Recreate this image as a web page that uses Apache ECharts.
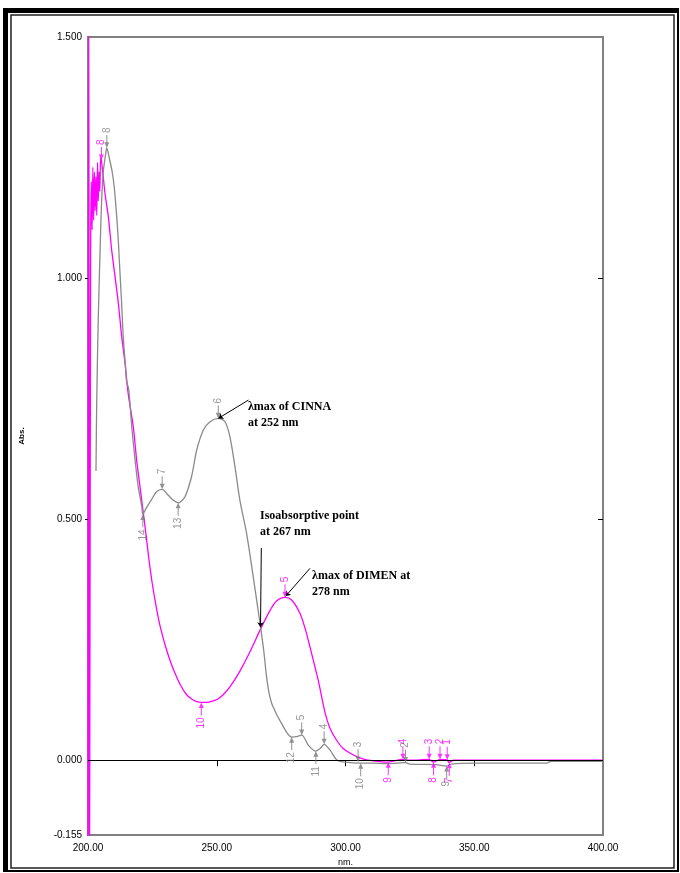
<!DOCTYPE html>
<html><head><meta charset="utf-8">
<script src="https://cdn.jsdelivr.net/npm/echarts@6/dist/echarts.min.js"></script>
<style>html,body{margin:0;padding:0;background:#fff}#c{width:680px;height:873px}</style>
</head><body><div id="c"></div>
<script>
// ---- data (wavelength nm, absorbance) ----
const cinnaSpectrum = [
 [203.1,0.60],[203.4,0.747],[204.0,0.92],[204.7,1.058],[205.3,1.162],[206.0,1.224],[206.8,1.255],
 [207.3,1.270],[208.3,1.248],[209.4,1.22],[210.3,1.183],[211.6,1.093],[212.3,1.023],[213.0,0.954],
 [213.7,0.878],[214.5,0.820],[215.0,0.785],[215.8,0.770],[217.0,0.691],[218.3,0.622],[219.5,0.567],
 [220.9,0.526],[221.3,0.510],[222.5,0.522],[224.5,0.539],[226.6,0.557],[228.8,0.562],[231.1,0.550],
 [233.4,0.538],[235.0,0.534],[237.6,0.546],[240.2,0.588],[242.2,0.643],[244.8,0.685],[247.4,0.702],
 [250.6,0.709],[253.2,0.702],[255.1,0.671],[257.1,0.608],[259.0,0.539],[261.6,0.470],[263.6,0.401],
 [265.5,0.332],[267.1,0.273],[268.3,0.225],[269.3,0.175],[270.3,0.140],[271.7,0.113],[275.2,0.076],
 [279.1,0.048],[281.0,0.049],[283.0,0.052],[285.6,0.031],[288.5,0.019],[290.3,0.025],[291.7,0.033],
 [294.0,0.021],[296.8,0.000],[300.0,-0.004],[305.8,-0.006],[310.0,-0.006],[316.0,-0.007],[320.0,-0.006],
 [323.3,-0.005],[325.0,-0.008],[335.0,-0.009],[339.4,-0.012],[341.0,-0.008],[350.0,-0.006],
 [378.0,-0.006],[380.0,-0.002],[400.0,-0.002]
];
const dimenSpectrum = [
 [200.0,-0.30],[200.3,1.70],[200.6,-0.30],[201.0,1.02],[201.3,1.20],[201.6,1.10],[201.9,1.23],
 [202.2,1.12],[202.5,1.22],[202.8,1.14],[203.1,1.21],[203.4,1.13],[203.7,1.24],[204.0,1.16],
 [204.3,1.22],[204.6,1.18],[204.9,1.25],[205.2,1.245],[206.6,1.176],[207.9,1.127],[209.2,1.058],
 [210.5,1.003],[211.8,0.947],[213.1,0.878],[214.4,0.823],[215.6,0.761],[217.6,0.691],[218.9,0.622],
 [220.2,0.567],[221.5,0.512],[222.8,0.456],[223.7,0.415],[225.0,0.365],[226.5,0.318],[228.0,0.278],
 [230.0,0.238],[232.0,0.205],[234.0,0.178],[236.0,0.155],[238.0,0.138],[240.0,0.128],[242.0,0.122],
 [244.0,0.120],[246.0,0.120],[248.0,0.122],[250.1,0.126],[252.5,0.136],[255.1,0.152],[259.0,0.185],
 [262.9,0.225],[267.1,0.273],[270.7,0.311],[273.3,0.331],[276.5,0.338],[279.0,0.333],[282.3,0.305],
 [284.5,0.270],[286.2,0.235],[289.4,0.166],[292.0,0.100],[294.0,0.066],[296.6,0.041],[299.0,0.025],
 [301.7,0.015],[305.0,0.006],[308.2,0.001],[316.6,-0.004],[322.3,0.002],[325.0,0.000],[332.5,0.002],
 [334.2,-0.004],[336.7,0.002],[339.5,0.001],[340.2,-0.005],[342.0,0.000],[400.0,0.000]
];
// peak / valley picks: [nm, absorbance, label]
const cinnaPeaks   = [[207.3,1.270,'8'],[228.8,0.562,'7'],[250.6,0.709,'6'],[283.0,0.052,'5'],[291.7,0.033,'4'],[304.9,-0.004,'3'],[323.3,-0.005,'2']];
const cinnaValleys = [[221.3,0.510,'14'],[235.0,0.534,'13'],[279.1,0.048,'12'],[288.5,0.019,'11'],[305.9,-0.006,'10'],[339.3,-0.012,'9']];
const dimenPeaks   = [[205.2,1.245,'8'],[276.5,0.338,'5'],[322.3,0.002,'4'],[332.5,0.002,'3'],[336.7,0.002,'2'],[339.5,0.001,'1']];
const dimenValleys = [[244.0,0.120,'10'],[316.6,-0.004,'9'],[334.2,-0.004,'8'],[340.3,-0.005,'7']];
// annotations
const notes = [
 {text:'λmax of CINNA\nat 252 nm', at:[262.1,0.716], from:[262.3,0.747], to:[250.6,0.709]},
 {text:'Isoabsorptive point\nat 267 nm', at:[266.8,0.490], from:[267.3,0.440], to:[267.0,0.276]},
 {text:'λmax of DIMEN at\n278 nm', at:[287.0,0.365], from:[286.2,0.398], to:[276.7,0.340]}
];
const xTicks = [250,300,350];
const yLabelValues = [-0.155,0,0.5,1.0,1.5];
const yTicks = [0.5,1.0];
const GRAY = '#8a8a8a', MAG = '#ff00ff';

const ARROW_DOWN = 'path://M4.3,0 L5.7,0 L5.7,8 L8.5,8 L5,14 L1.5,8 L4.3,8 Z';
const ARROW_UP = 'path://M5,0 L8.5,6 L5.7,6 L5.7,14 L4.3,14 L4.3,6 L1.5,6 Z';

function picks(list, color, up){
  return {
    type:'scatter', silent:true, z:5,
    data:list.map(p=>({value:[p[0],p[1]], name:p[2]})),
    symbol: up?ARROW_UP:ARROW_DOWN, symbolSize:[5,13], symbolOffset:[0, up?6.5:-6.5],
    itemStyle:{color: color==='gray'?'#777':MAG},
    label:{show:true, formatter:'{b}', position: up?'bottom':'top', distance:2, rotate:90,
      align: up?'right':'left', verticalAlign:'middle',
      color: color==='gray'?'#808080':MAG, fontSize:10, fontFamily:'Liberation Sans'}
  };
}

const chart = echarts.init(document.getElementById('c'), null, {renderer:'canvas'});
const axisX = (pos, inside, labels)=>({
  type:'value', position:pos, min:200, max:400, interval:50,
  axisLine:{show:false}, splitLine:{show:false},
  axisTick:{show:true, inside:inside, length:inside?6:4, customValues:xTicks, lineStyle:{color:'#000'}},
  axisLabel:{show:labels, formatter:v=>v.toFixed(2), color:'#000', fontSize:10, fontFamily:'Liberation Sans', margin:8, showMinLabel:true, showMaxLabel:true},
  name: labels?'nm.':'', nameLocation:'middle', nameGap:23,
  nameTextStyle:{color:'#000', fontSize:9, fontFamily:'Liberation Sans'}
});
const axisY = (pos, inside, labels)=>({
  type:'value', position:pos, min:-0.155, max:1.5,
  axisLine:{show:false}, splitLine:{show:false},
  axisTick:{show:true, inside:inside, length:inside?5:3, customValues:yTicks, lineStyle:{color:'#000'}},
  axisLabel:{show:labels, customValues:yLabelValues, formatter:v=>v.toFixed(3), color:'#000', fontSize:10, fontFamily:'Liberation Sans', margin:6},
  name: labels?'Abs.':'', nameLocation:'middle', nameGap:62, nameRotate:90,
  nameTextStyle:{color:'#000', fontSize:8, fontWeight:'bold', fontFamily:'Liberation Sans'}
});

chart.setOption({
  animation:false,
  backgroundColor:'#fff',
  grid:{left:88, right:77, top:37, bottom:38, show:true, borderColor:'#808080', borderWidth:2, backgroundColor:'transparent'},
  xAxis:[axisX('bottom',false,true), axisX('top',true,false)],
  yAxis:[axisY('left',false,true), axisY('right',true,false)],
  graphic:[
    {type:'rect', shape:{x:3,y:8,width:675,height:5}, style:{fill:'#000'}},
    {type:'rect', shape:{x:3,y:8,width:5,height:864}, style:{fill:'#000'}},
    {type:'rect', shape:{x:677,y:8,width:2,height:864}, style:{fill:'#000'}},
    {type:'rect', shape:{x:3,y:870,width:676,height:2}, style:{fill:'#000'}},
    {type:'rect', shape:{x:11,y:15,width:663,height:853}, style:{fill:'none', stroke:'#222', lineWidth:1.5}}
  ],
  series:[
    {type:'line', name:'DIMEN', data:dimenSpectrum, showSymbol:false, smooth:0.3, clip:true,
     lineStyle:{color:MAG, width:1.3}, z:3,
     markLine:{silent:true, symbol:['none','none'], label:{show:false},
       lineStyle:{color:'#000', width:1, type:'solid'}, data:[{yAxis:0}]}},
    {type:'line', name:'CINNA', data:cinnaSpectrum, showSymbol:false, smooth:0.3, clip:true,
     lineStyle:{color:GRAY, width:1.3}, z:4,
     markLine:{silent:true, symbol:['none','arrow'], symbolSize:5, label:{show:false},
       lineStyle:{color:'#000', width:1, type:'solid'},
       data:notes.map(n=>[{coord:n.from},{coord:n.to}])},
     markPoint:{silent:true, symbol:'circle', symbolSize:0,
       data:notes.map(n=>({coord:n.at, value:n.text})),
       label:{show:true, formatter:p=>p.data.value, position:'right', distance:0, align:'left', verticalAlign:'middle',
         color:'#000', fontSize:12, fontWeight:'bold', fontFamily:'Liberation Serif', lineHeight:16}}},
    picks(cinnaPeaks,'gray',false), picks(cinnaValleys,'gray',true),
    picks(dimenPeaks,'mag',false), picks(dimenValleys,'mag',true)
  ]
});
</script></body></html>
